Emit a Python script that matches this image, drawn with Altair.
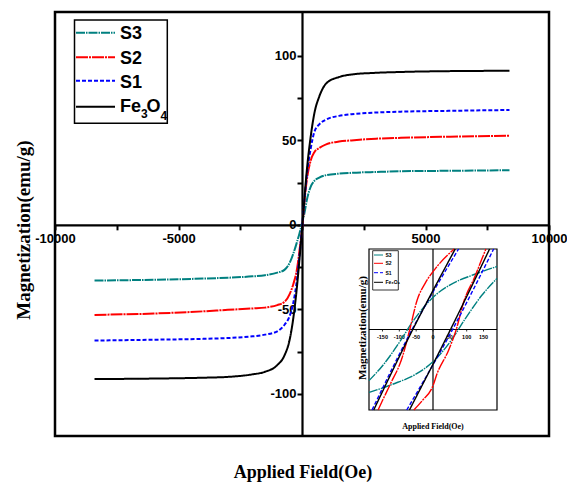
import altair as alt
import pandas as pd

# ---------------- data ----------------
series_order = ["S3", "S2", "S1", "Fe3O4"]
series_colors = ["#008080", "#ff0000", "#0000ff", "#000000"]
series_dash = [[9, 1, 1.5, 1], [12, 1, 2, 1], [4, 2], [1, 0]]
series_width = [2, 2, 2.2, 2.4]

# main M-H curves (Oe, emu/g)
field_oe = [-8400, -6000, -4000, -3000, -2000, -1500, -1000, -700, -500, -350, -200, -100,
            0, 100, 200, 350, 500, 700, 1000, 1500, 2000, 3000, 4000, 6000, 8400]
m_fe3o4 = [-91.3, -91.0, -90.5, -90.0, -88.5, -87.0, -83.0, -77.0, -68.0, -55.0, -36.0, -20.0,
           -3.0, 16.0, 33.0, 52.0, 66.0, 76.0, 84.0, 87.5, 89.0, 90.0, 90.5, 91.0, 91.2]
m_s1 = [-68.5, -68.0, -67.5, -67.0, -66.0, -65.0, -63.0, -59.0, -54.0, -46.0, -32.0, -18.0,
        -2.0, 15.0, 30.0, 45.0, 55.0, 59.5, 62.5, 64.5, 65.5, 66.5, 67.0, 67.5, 68.0]
m_s2 = [-53.3, -52.5, -51.2, -50.3, -49.5, -49.0, -47.5, -45.5, -41.0, -35.0, -26.0, -15.0,
        -3.0, 14.0, 27.0, 38.0, 43.0, 45.5, 47.8, 49.3, 50.0, 51.0, 51.5, 52.2, 52.8]
m_s3 = [-33.0, -32.5, -31.8, -31.3, -30.5, -29.8, -28.3, -26.5, -22.5, -17.0, -10.0, -5.0,
        1.0, 7.0, 15.0, 22.5, 26.0, 28.0, 29.5, 30.3, 30.8, 31.3, 31.7, 32.0, 32.3]

# low-field hysteresis loops (inset): descending and ascending branches
loop_fe3o4_desc_h = [-176, -60, 66]
loop_fe3o4_desc_m = [-40, 0, 40]
loop_fe3o4_asc_h = [-70, 52, 168]
loop_fe3o4_asc_m = [-40, 0, 40]
loop_s1_desc_h = [-181, -62, 76]
loop_s1_desc_m = [-40, 0, 40]
loop_s1_asc_h = [-78, 58, 180]
loop_s1_asc_m = [-40, 0, 40]
loop_s2_desc_h = [-163, -150, -126, -91, -69, -47, -23, 12, 63]
loop_s2_desc_m = [-40, -35.3, -26.9, -13.7, 0, 14.7, 23, 31.3, 40]
loop_s2_asc_h = [-57, -32, 0, 12, 46, 69, 91, 126, 145, 157]
loop_s2_asc_m = [-40, -35.4, -27.9, -22, -10.4, 0, 13.7, 26.9, 35, 40]
loop_s3_desc_h = [-190, -145, -96, -57, 2, 51, 120, 190]
loop_s3_desc_m = [-25.4, -17, -5.4, 4.7, 16.3, 22.2, 27.2, 31.3]
loop_s3_asc_h = [-190, -120, -51, -2, 57, 96, 145, 190]
loop_s3_asc_m = [-31.3, -27.2, -22.2, -16.3, -4.7, 5.4, 17, 25.4]

x_ticks = [-10000, -7500, -5000, -2500, 0, 2500, 5000, 7500, 10000]
y_ticks = [-100, -75, -50, -25, 0, 25, 50, 75, 100]
inset_ticks = [-150, -100, -50, 0, 50, 100, 150]

# ---------------- layout ----------------
W, H = 494, 424
X_DOM = [-10000, 10000]
Y_DOM = [-125, 126]
zero_x = W * (0 - X_DOM[0]) / (X_DOM[1] - X_DOM[0])
zero_y = H * Y_DOM[1] / (Y_DOM[1] - Y_DOM[0])

INSET_X_DOM = [-190, 190]
INSET_Y_DOM = [-40, 40]
INSET_X_RANGE = [314, 442]
INSET_Y_RANGE = [398, 237]

SANS = "Liberation Sans"
SERIF = "Liberation Serif"

# ---------------- tables ----------------
rows = []
for name, vals in zip(series_order, [m_s3, m_s2, m_s1, m_fe3o4]):
    for i, (h, m) in enumerate(zip(field_oe, vals)):
        rows.append({"series": name, "H": h, "M": m, "ord": i})
curves = pd.DataFrame(rows)

loops = {
    "S3": [(loop_s3_desc_h, loop_s3_desc_m), (loop_s3_asc_h, loop_s3_asc_m)],
    "S2": [(loop_s2_desc_h, loop_s2_desc_m), (loop_s2_asc_h, loop_s2_asc_m)],
    "S1": [(loop_s1_desc_h, loop_s1_desc_m), (loop_s1_asc_h, loop_s1_asc_m)],
    "Fe3O4": [(loop_fe3o4_desc_h, loop_fe3o4_desc_m), (loop_fe3o4_asc_h, loop_fe3o4_asc_m)],
}
irows = []
for name in series_order:
    for b, (hs, ms) in enumerate(loops[name]):
        for i, (h, m) in enumerate(zip(hs, ms)):
            irows.append({"series": name, "branch": f"{name}-{b}", "hx": h, "hy": m, "ord": i})
inset_curves = pd.DataFrame(irows)

one = alt.InlineData(values=[{"k": 0}])

color_scale = alt.Scale(domain=series_order, range=series_colors)
dash_scale = alt.Scale(domain=series_order, range=series_dash)

# ---------------- main panel ----------------
x_axis = alt.Axis(
    values=x_ticks, title=None, grid=False,
    labelExpr="datum.value % 5000 == 0 && datum.value != 0 ? '' + datum.value : ''",
    offset=zero_y - H, domainColor="black", domainWidth=2.2,
    tickColor="black", tickWidth=2, tickSize=5,
    labelFont=SANS, labelFontSize=13, labelFontWeight="bold", labelColor="black", labelPadding=3,
    labelFlush=False, labelOverlap=False,
)
y_axis = alt.Axis(
    values=y_ticks, title=None, grid=False,
    labelExpr="datum.value % 50 == 0 ? '' + datum.value : ''",
    offset=-zero_x, domainColor="black", domainWidth=2.2,
    tickColor="black", tickWidth=2, tickSize=5,
    labelFont=SANS, labelFontSize=13, labelFontWeight="bold", labelColor="black", labelPadding=1,
    labelFlush=False, labelOverlap=False,
)

main_lines = alt.Chart(curves).mark_line(interpolate="monotone").encode(
    x=alt.X("H:Q", scale=alt.Scale(domain=X_DOM, nice=False, zero=False), axis=x_axis),
    y=alt.Y("M:Q", scale=alt.Scale(domain=Y_DOM, nice=False, zero=False), axis=y_axis),
    color=alt.Color("series:N", scale=color_scale, legend=None),
    strokeDash=alt.StrokeDash("series:N", scale=dash_scale, legend=None),
    strokeWidth=alt.StrokeWidth("series:N", scale=alt.Scale(domain=series_order, range=series_width), legend=None),
    detail="series:N",
    order="ord:Q",
)

main_layers = [main_lines]

# legend
main_layers.append(
    alt.Chart(one).mark_rect(fill="white", stroke="black", strokeWidth=1.5).encode(
        x=alt.value(19.5), x2=alt.value(112.3), y=alt.value(8), y2=alt.value(111.3)
    )
)
legend_line_y = [20.7, 45.3, 68.7, 94.7]
legend_text_y = [27.3, 52, 76.3]
for name, col, dash, ly in zip(series_order, series_colors, series_dash, legend_line_y):
    main_layers.append(
        alt.Chart(one).mark_rule(color=col, strokeWidth=2, strokeDash=dash).encode(
            x=alt.value(21), x2=alt.value(60), y=alt.value(ly)
        )
    )
for name, ty in zip(series_order[:3], legend_text_y):
    main_layers.append(
        alt.Chart(one).mark_text(text=name, font=SANS, fontSize=18, fontWeight="bold", align="left",
                                 baseline="alphabetic", color="black").encode(
            x=alt.value(65), y=alt.value(ty))
    )
# Fe3O4 with subscripts
for txt, tx, ty, fs in [("Fe", 65, 99.7, 18), ("3", 86, 106, 12), ("O", 91.5, 99.7, 18), ("4", 105.5, 108, 12)]:
    main_layers.append(
        alt.Chart(one).mark_text(text=txt, font=SANS, fontSize=fs, fontWeight="bold", align="left",
                                 baseline="alphabetic", color="black").encode(
            x=alt.value(tx), y=alt.value(ty))
    )

# axis titles
main_layers.append(
    alt.Chart(one).mark_text(text="Applied Field(Oe)", font=SERIF, fontSize=18,
                             fontWeight="bold", color="black", baseline="middle").encode(
        x=alt.value(248), y=alt.value(461))
)
main_layers.append(
    alt.Chart(one).mark_text(text="Magnetization(emu/g)", font=SERIF, fontSize=19,
                             fontWeight="bold", color="black", baseline="middle", angle=270).encode(
        x=alt.value(-31.5), y=alt.value(218))
)

main_panel = alt.layer(*main_layers)

# ---------------- inset ----------------
ix = dict(scale=alt.Scale(domain=INSET_X_DOM, range=INSET_X_RANGE, nice=False, zero=False), axis=None)
iy = dict(scale=alt.Scale(domain=INSET_Y_DOM, range=INSET_Y_RANGE, nice=False, zero=False), axis=None)

frame_df = pd.DataFrame([{"hx": INSET_X_DOM[0], "hx2": INSET_X_DOM[1], "hy": INSET_Y_DOM[0], "hy2": INSET_Y_DOM[1]}])
inset_frame = alt.Chart(frame_df).mark_rect(fill="white", stroke="black", strokeWidth=1.2).encode(
    x=alt.X("hx:Q", **ix), x2="hx2:Q", y=alt.Y("hy:Q", **iy), y2="hy2:Q"
)
haxis_df = pd.DataFrame([{"hx": INSET_X_DOM[0], "hx2": INSET_X_DOM[1], "hy": 0}])
inset_haxis = alt.Chart(haxis_df).mark_rule(color="black", strokeWidth=1.2).encode(
    x=alt.X("hx:Q", **ix), x2="hx2:Q", y=alt.Y("hy:Q", **iy)
)
vaxis_df = pd.DataFrame([{"hx": 0, "hy": INSET_Y_DOM[0], "hy2": INSET_Y_DOM[1]}])
inset_vaxis = alt.Chart(vaxis_df).mark_rule(color="black", strokeWidth=1.2).encode(
    x=alt.X("hx:Q", **ix), y=alt.Y("hy:Q", **iy), y2="hy2:Q"
)
tick_df = pd.DataFrame({"hx": inset_ticks, "hy": [0] * len(inset_ticks), "hy2": [-1.0] * len(inset_ticks),
                        "ly": [-3.8] * len(inset_ticks), "lab": [str(t) for t in inset_ticks]})
inset_tickmarks = alt.Chart(tick_df).mark_rule(color="black", strokeWidth=0.8).encode(
    x=alt.X("hx:Q", **ix), y=alt.Y("hy:Q", **iy), y2="hy2:Q"
)
inset_ticklabels = alt.Chart(tick_df).mark_text(font=SANS, fontSize=5.5, fontWeight="bold",
                                                color="black", baseline="middle").encode(
    x=alt.X("hx:Q", **ix), y=alt.Y("ly:Q", **iy), text="lab:N"
)
inset_lines = alt.Chart(inset_curves).mark_line(strokeWidth=1.4, interpolate="monotone").encode(
    x=alt.X("hx:Q", **ix),
    y=alt.Y("hy:Q", **iy),
    color=alt.Color("series:N", scale=color_scale, legend=None),
    strokeDash=alt.StrokeDash("series:N", scale=dash_scale, legend=None),
    detail="branch:N",
    order="ord:Q",
)

inset_layers = [inset_frame, inset_haxis, inset_vaxis, inset_tickmarks, inset_ticklabels, inset_lines]

inset_layers.append(
    alt.Chart(one).mark_rect(fill="white", stroke="black", strokeWidth=0.8).encode(
        x=alt.value(317.7), x2=alt.value(343.3), y=alt.value(238.7), y2=alt.value(278)
    )
)
inset_legend_y = [243, 251.3, 260.7, 270.3]
for name, col, dash, ly in zip(series_order, series_colors, series_dash, inset_legend_y):
    inset_layers.append(
        alt.Chart(one).mark_rule(color=col, strokeWidth=1, strokeDash=dash).encode(
            x=alt.value(319), x2=alt.value(328), y=alt.value(ly)
        )
    )
    inset_layers.append(
        alt.Chart(one).mark_text(text="Fe₃O₄" if name == "Fe3O4" else name, font=SANS,
                                 fontSize=5, fontWeight="bold", align="left", baseline="middle",
                                 color="black").encode(x=alt.value(330.5), y=alt.value(ly))
    )
inset_layers.append(
    alt.Chart(one).mark_text(text="Applied Field(Oe)", font=SERIF, fontSize=8,
                             fontWeight="bold", color="black", baseline="middle").encode(
        x=alt.value(378), y=alt.value(414.7))
)
inset_layers.append(
    alt.Chart(one).mark_text(text="Magnetization(emu/g)", font=SERIF, fontSize=11,
                             fontWeight="bold", color="black", baseline="middle", angle=270).encode(
        x=alt.value(308), y=alt.value(316))
)

inset_panel = alt.layer(*inset_layers)

chart = alt.layer(main_panel, inset_panel).resolve_scale(
    x="independent", y="independent"
).properties(
    width=W, height=H,
    padding={"left": 55, "top": 12, "right": 567 - 55 - W, "bottom": 486 - 12 - H},
    autosize=alt.AutoSizeParams(type="none"),
    background="white",
).configure_view(stroke="black", strokeWidth=2.5)

chart.save("out.html", embed_options={"renderer": "svg", "actions": False})
